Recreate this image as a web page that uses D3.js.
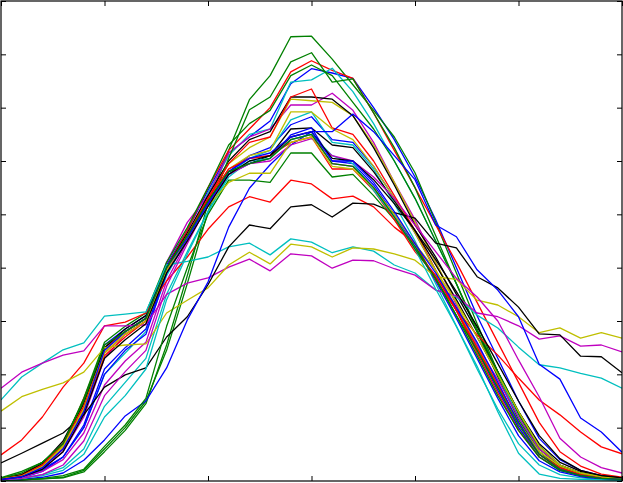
<!DOCTYPE html>
<html><head><meta charset="utf-8">
<script src="https://cdn.jsdelivr.net/npm/d3@7"></script>
<style>html,body{margin:0;padding:0;background:#fff;}svg{display:block;}</style>
</head><body>
<script>
const xTicks = [0, 5, 10, 15, 20, 25, 30];
const yTicks = [0, 1, 2, 3, 4, 5, 6, 7, 8, 9];
const colors = ["#0000ff", "#008000", "#ff0000", "#00bfbf", "#bf00bf", "#bfbf00", "#000000"];

const s01 = [0.04,0.1,0.3,0.6,1.5,2.55,2.85,3.1,4.05,4.7,5.45,6.15,6.45,6.75,7.45,7.73,7.65,7.55,7.0,6.4,5.7,4.9,4.0,3.1,2.3,1.5,0.8,0.4,0.2,0.1,0.06];
const s02 = [0.01,0.02,0.04,0.06,0.17,0.55,0.95,1.45,2.55,3.85,5.2,6.2,7.15,7.6,8.33,8.34,7.91,7.43,6.95,6.45,5.78,4.85,3.9,2.95,2.05,1.25,0.6,0.28,0.14,0.07,0.04];
const s03 = [0.05,0.12,0.35,0.65,1.55,2.5,2.8,3.05,4.0,4.7,5.5,6.2,6.6,7.0,7.67,7.88,7.7,7.55,6.9,6.2,5.5,4.8,4.1,3.35,2.6,1.85,1.1,0.55,0.28,0.13,0.07];
const s04 = [0.03,0.07,0.2,0.45,1.0,2.0,2.4,2.8,3.85,4.55,5.4,6.1,6.5,6.6,7.48,7.52,7.74,7.3,6.7,6.0,5.3,4.5,3.7,2.8,2.0,1.2,0.55,0.25,0.12,0.06,0.04];
const s05 = [0.03,0.08,0.22,0.55,1.2,2.3,2.75,3.0,4.1,4.85,5.35,6.15,6.45,6.6,7.05,7.05,7.27,6.95,6.35,5.6,4.9,4.1,3.3,2.5,1.75,1.0,0.5,0.25,0.12,0.06,0.04];
const s06 = [0.04,0.1,0.28,0.65,1.35,2.4,2.75,3.0,4.0,4.6,5.3,5.95,6.25,6.45,7.16,7.13,7.1,6.85,6.3,5.6,4.85,4.1,3.35,2.55,1.8,1.1,0.55,0.28,0.14,0.08,0.05];
const s07 = [0.04,0.1,0.3,0.7,1.45,2.45,2.8,3.05,4.0,4.65,5.35,6.0,6.4,6.55,7.2,7.2,7.16,6.85,6.25,5.55,4.8,4.2,3.5,2.8,2.05,1.3,0.65,0.3,0.15,0.08,0.05];
const s08 = [0.02,0.06,0.18,0.45,1.05,2.1,2.5,2.85,3.9,4.5,5.2,5.8,6.1,6.25,6.68,6.83,6.4,6.35,5.9,5.3,4.65,3.95,3.2,2.45,1.7,1.0,0.45,0.2,0.1,0.05,0.03];
const s09 = [0.01,0.02,0.04,0.07,0.2,0.6,1.0,1.5,2.45,3.7,5.05,6.05,6.96,7.2,7.86,8.03,7.48,7.54,6.9,6.25,5.5,4.6,3.7,2.8,1.95,1.15,0.55,0.25,0.12,0.06,0.03];
const s10 = [0.04,0.09,0.25,0.6,1.3,2.35,2.7,3.0,3.95,4.6,5.3,5.95,6.35,6.45,7.2,7.35,6.62,6.5,6.0,5.35,4.7,3.95,3.2,2.4,1.65,0.95,0.45,0.22,0.1,0.05,0.03];
const s11 = [0.03,0.06,0.12,0.25,0.6,1.4,1.85,2.3,3.5,4.3,5.05,5.75,6.05,6.2,6.77,6.92,6.35,6.3,5.85,5.2,4.5,3.7,2.9,2.1,1.35,0.7,0.3,0.12,0.06,0.03,0.02];
const s12 = [0.03,0.07,0.18,0.4,0.9,1.8,2.25,2.6,3.75,4.5,5.25,5.85,6.05,6.1,6.4,6.5,5.95,5.9,5.5,4.95,4.35,3.85,3.2,2.55,1.9,1.2,0.6,0.3,0.15,0.08,0.04];
const s13 = [0.04,0.1,0.3,0.7,1.4,2.45,2.8,3.05,4.0,4.6,5.25,5.85,6.1,6.2,6.92,6.92,6.6,6.4,5.9,5.3,4.65,3.95,3.25,2.5,1.8,1.1,0.55,0.28,0.14,0.08,0.05];
const s14 = [0.05,0.12,0.33,0.75,1.5,2.5,2.85,3.1,4.0,4.6,5.25,5.8,5.95,6.1,6.6,6.62,6.3,6.25,5.8,5.25,4.7,4.05,3.4,2.7,2.0,1.3,0.7,0.35,0.18,0.1,0.06];
const s15 = [0.03,0.08,0.22,0.45,1.0,2.0,2.45,2.75,3.9,4.55,5.2,5.75,5.95,6.05,6.49,6.62,6.0,5.95,5.55,5.0,4.4,3.75,3.05,2.3,1.55,0.85,0.38,0.17,0.08,0.04,0.03];
const s16 = [0.05,0.15,0.35,0.7,1.55,2.6,2.9,3.15,4.1,4.75,5.5,6.3,6.7,6.95,7.6,7.8,7.6,7.1,6.6,6.0,5.3,4.5,3.7,2.85,2.05,1.3,0.65,0.3,0.15,0.08,0.05];
const s17 = [0.49,0.77,1.2,1.76,2.21,2.91,2.98,3.15,3.75,4.2,4.72,5.14,5.33,5.23,5.64,5.57,5.29,5.34,5.14,4.76,4.46,3.77,3.2,2.74,2.36,1.93,1.52,1.24,0.92,0.64,0.51];
const s18 = [1.52,1.95,2.21,2.46,2.59,3.09,3.13,3.17,4.05,4.12,4.2,4.39,4.46,4.24,4.54,4.48,4.28,4.39,4.31,4.05,3.9,3.58,3.45,3.11,2.87,2.51,2.18,2.12,2.02,1.93,1.74];
const s19 = [1.74,2.04,2.21,2.36,2.44,2.91,2.91,2.93,3.5,3.71,3.81,4.01,4.16,3.94,4.26,4.22,3.99,4.14,4.13,3.98,3.86,3.58,3.47,3.15,3.08,2.91,2.66,2.72,2.53,2.55,2.42];
const s20 = [1.31,1.58,1.72,1.84,2.04,2.5,2.55,2.57,3.15,3.39,3.62,4.05,4.29,4.07,4.44,4.39,4.2,4.37,4.35,4.26,4.14,3.83,3.78,3.39,3.3,3.08,2.78,2.87,2.68,2.78,2.68];
const s21 = [0.34,0.52,0.71,0.9,1.24,1.76,1.99,2.12,2.7,3.08,3.68,4.39,4.8,4.73,5.14,5.18,4.95,5.21,5.19,5.03,4.93,4.46,4.37,3.83,3.62,3.26,2.76,2.74,2.34,2.33,2.03];
const s22 = [0.01,0.03,0.07,0.15,0.39,0.77,1.22,1.5,2.12,3.02,3.73,4.76,5.49,5.93,6.3,6.55,6.55,6.88,6.55,6.1,5.65,4.8,4.58,3.96,3.58,3.08,2.19,1.91,1.18,0.92,0.54];
const s23 = [0.01,0.02,0.05,0.1,0.22,0.65,1.05,1.55,2.9,4.0,5.0,5.64,5.64,5.6,6.15,6.15,5.7,5.75,5.35,4.9,4.4,3.8,3.1,2.35,1.6,0.95,0.45,0.2,0.1,0.05,0.03];
const s24 = [0.04,0.1,0.3,0.7,1.4,2.4,2.75,3.0,3.95,4.6,5.3,5.85,6.05,6.1,6.35,6.45,5.85,5.85,5.45,4.9,4.3,3.85,3.2,2.5,1.8,1.1,0.5,0.25,0.12,0.06,0.03];
const s25 = [0.02,0.05,0.1,0.2,0.5,1.2,1.6,2.1,3.4,4.25,5.05,5.7,6.0,6.05,6.4,6.5,6.1,5.95,5.45,4.95,4.35,3.6,2.9,2.15,1.3,0.52,0.13,0.05,0.03,0.02,0.01];
const s26 = [0.02,0.05,0.12,0.3,0.75,1.6,2.05,2.45,3.65,4.45,5.2,5.75,5.95,6.0,6.3,6.42,6.1,6.0,5.7,5.3,4.8,4.3,3.8,3.45,3.0,2.27,1.58,0.8,0.45,0.25,0.15];
const s27 = [0.04,0.09,0.27,0.65,1.35,2.4,2.75,3.0,3.95,4.55,5.15,5.6,5.77,5.77,6.35,6.45,5.9,5.85,5.5,5.0,4.45,3.95,3.35,2.7,2.0,1.3,0.65,0.3,0.15,0.08,0.05];
const s28 = [0.03,0.08,0.22,0.55,1.25,2.3,2.65,2.95,3.9,4.5,5.15,5.75,6.0,6.1,6.45,6.55,6.05,6.0,5.65,5.2,4.7,4.15,3.55,2.9,2.2,1.5,0.85,0.42,0.2,0.1,0.06];
const s29 = [0.03,0.08,0.25,0.6,1.3,2.45,2.8,3.05,4.0,4.55,5.2,5.8,6.05,6.15,6.45,6.55,6.0,6.0,5.6,5.05,4.45,3.9,3.25,2.6,1.85,1.1,0.5,0.22,0.1,0.05,0.03];
const s30 = [0.06,0.18,0.35,0.7,1.5,2.55,2.8,3.05,4.0,4.6,5.25,5.8,5.95,6.05,6.4,6.5,5.95,5.9,5.5,4.95,4.35,3.8,3.1,2.45,1.75,1.05,0.5,0.22,0.1,0.05,0.03];

const series = [s01,s02,s03,s04,s05,s06,s07,s08,s09,s10,s11,s12,s13,s14,s15,s16,s17,s18,s19,s20,s21,s22,s23,s24,s25,s26,s27,s28,s29,s30];

const W = 623, H = 483;
const L = 1, R = 622, T = 1, B = 481;
const svg = d3.select("body").append("svg").attr("width", W).attr("height", H);
const x = d3.scaleLinear().domain([0, 30]).range([L, R]);
const y = d3.scaleLinear().domain([0, 9]).range([B, T]);

svg.append("defs").append("clipPath").attr("id", "clip")
  .append("rect").attr("x", L).attr("y", T).attr("width", R - L).attr("height", B - T);

const line = d3.line().x((d, i) => x(i)).y(d => y(d));
const g = svg.append("g").attr("clip-path", "url(#clip)");
series.forEach((s, k) => {
  g.append("path").datum(s).attr("d", line)
    .attr("fill", "none").attr("stroke", colors[k % colors.length])
    .attr("stroke-width", 1.3).attr("stroke-linejoin", "round");
});

function styleAxis(sel) {
  sel.select(".domain").remove();
  sel.selectAll(".tick line").attr("stroke", "#000").attr("stroke-width", 1);
  sel.selectAll(".tick text").remove();
}
const tl = 5;
svg.append("g").attr("transform", `translate(0,${B})`)
  .call(d3.axisBottom(x).tickValues(xTicks).tickSizeInner(-tl).tickSizeOuter(0).tickFormat("")).call(styleAxis);
svg.append("g").attr("transform", `translate(0,${T})`)
  .call(d3.axisTop(x).tickValues(xTicks).tickSizeInner(-tl).tickSizeOuter(0).tickFormat("")).call(styleAxis);
svg.append("g").attr("transform", `translate(${L},0)`)
  .call(d3.axisLeft(y).tickValues(yTicks).tickSizeInner(-tl).tickSizeOuter(0).tickFormat("")).call(styleAxis);
svg.append("g").attr("transform", `translate(${R},0)`)
  .call(d3.axisRight(y).tickValues(yTicks).tickSizeInner(-tl).tickSizeOuter(0).tickFormat("")).call(styleAxis);

svg.append("rect").attr("x", L).attr("y", T).attr("width", R - L).attr("height", B - T)
  .attr("fill", "none").attr("stroke", "#000").attr("stroke-width", 1.2);
</script>
</body></html>
